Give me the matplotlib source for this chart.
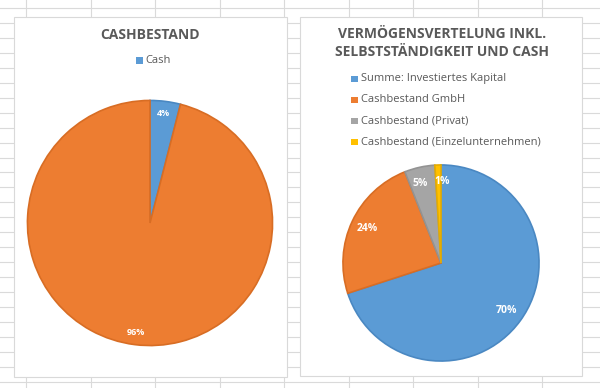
import matplotlib.pyplot as plt
from matplotlib.patches import Rectangle

# data
left_title = 'CASHBESTAND'
left_labels = ['Cash', '']
left_values = [4, 96]
left_colors = ['#5B9BD5', '#ED7D31']

right_title = 'VERMÖGENSVERTELUNG INKL.\nSELBSTSTÄNDIGKEIT UND CASH'
right_labels = ['Summe: Investiertes Kapital', 'Cashbestand GmbH',
                'Cashbestand (Privat)', 'Cashbestand (Einzelunternehmen)']
right_values = [70, 24, 5, 1]
right_colors = ['#5B9BD5', '#ED7D31', '#A5A5A5', '#FFC000']
right_edges = ['#4A88C2', '#D86D24', '#939393', '#E5AC00']
left_edges = ['#4A88C2', '#D86D24']

W, H = 600, 388
plt.rcParams['font.family'] = ['Open Sans', 'DejaVu Sans']
fig = plt.figure(figsize=(W / 100, H / 100), dpi=100)

def px_axes(x0, y0, x1, y1):
    # pixel box (top-left origin) -> figure axes
    return fig.add_axes([x0 / W, (H - y1) / H, (x1 - x0) / W, (y1 - y0) / H])

# spreadsheet background
bg = fig.add_axes([0, 0, 1, 1])
bg.set_xlim(0, W)
bg.set_ylim(H, 0)
bg.axis('off')
x = 26.0
while x < W:
    bg.axvline(x, color='#DADADA', lw=0.8)
    x += 64.5
y = 8.0
while y < H:
    bg.axhline(y, color='#DADADA', lw=0.8)
    y += 14.95

# chart panels
for x0, y0, x1, y1 in [(14, 17, 287, 377), (300, 17, 582, 376)]:
    bg.add_patch(Rectangle((x0, y0), x1 - x0, y1 - y0, facecolor='white',
                           edgecolor='#D9D9D9', lw=0.8, zorder=3))

txt = '#595959'
bg.text(150, 35, left_title, ha='center', va='center', fontsize=10,
        fontweight='bold', color=txt, zorder=5)
bg.add_patch(Rectangle((136, 57), 6.5, 6.5, facecolor=left_colors[0], zorder=5))
bg.text(145, 60.5, left_labels[0], ha='left', va='center', fontsize=8,
        color=txt, zorder=5)

bg.text(442, 43, right_title, ha='center', va='center', fontsize=10,
        fontweight='bold', color=txt, linespacing=1.45, zorder=5)
for i, lab in enumerate(right_labels):
    yy = 79 + i * 21
    bg.add_patch(Rectangle((351, yy - 3.5), 6.5, 6.5,
                           facecolor=right_colors[i], zorder=5))
    bg.text(361, yy, lab, ha='left', va='center', fontsize=8, color=txt,
            zorder=5)

# left pie
ax1 = px_axes(25, 98, 275, 348)
w1, _, t1 = ax1.pie(left_values, colors=left_colors, startangle=90,
                    counterclock=False, radius=1, autopct='%1.0f%%',
                    pctdistance=0.9,
                    wedgeprops=dict(linewidth=1.2),
                    textprops=dict(color='white', fontsize=6.5,
                                   fontweight='bold'))
for w, e in zip(w1, left_edges):
    w.set_edgecolor(e)
ax1.set_xlim(-1.02, 1.02)
ax1.set_ylim(-1.02, 1.02)
ax1.axis('off')

# right pie
ax2 = px_axes(341, 163, 541, 363)
w2, _, t2 = ax2.pie(right_values, colors=right_colors, startangle=90,
                    counterclock=False, radius=1, autopct='%1.0f%%',
                    pctdistance=0.83,
                    wedgeprops=dict(linewidth=1.2),
                    textprops=dict(color='white', fontsize=7.5,
                                   fontweight='bold'))
for w, e in zip(w2, right_edges):
    w.set_edgecolor(e)
t2[2].set_x(t2[2].get_position()[0] - 0.03)
t2[3].set_x(t2[3].get_position()[0] + 0.04)
ax2.set_xlim(-1.02, 1.02)
ax2.set_ylim(-1.02, 1.02)
ax2.axis('off')

fig.savefig('out.png', dpi=100)
